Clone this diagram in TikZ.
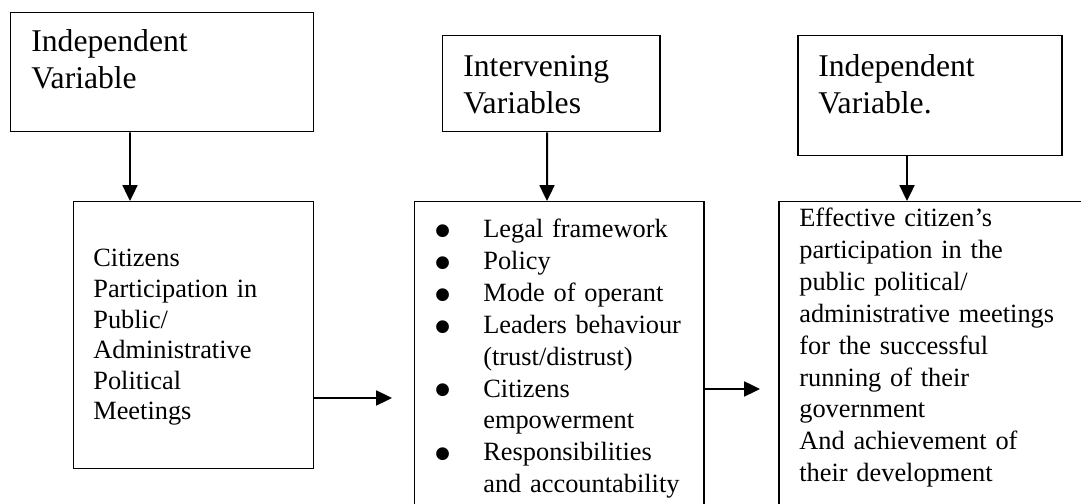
\documentclass[tikz,border=0pt]{standalone}
\usepackage{fontspec}
\setmainfont{Liberation Serif}
\newfontfamily\bulfont{DejaVu Sans}
\usepackage{tikz}
\usetikzlibrary{arrows.meta,calc}

% bullet list helpers
\newcommand{\bitem}{\makebox[0.96cm][l]{\raisebox{1.2pt}{\bulfont\fontsize{9.5}{18}\selectfont ●}}}
\newcommand{\bcont}{\hspace*{0.96cm}}

\begin{document}
\begin{tikzpicture}[
  box/.style={rectangle, draw, line width=0.85pt, anchor=north west, inner sep=0pt},
  head/.style={anchor=base west, inner sep=0pt, text width=5cm, align=left,
    font=\fontsize{18}{20.5}\selectfont},
  body/.style={anchor=base west, inner sep=0pt, text width=5.6cm, align=left,
    font=\fontsize{15}{18.1}\selectfont},
  arr/.style={-{Triangle[length=9pt,width=8.5pt]}, line width=1.13pt}
]
\useasboundingbox (0,0) rectangle (21.62,10.08);
\clip (0,0) rectangle (21.62,10.08);

% boxes
\node[box, minimum width=6.06cm, minimum height=2.38cm] (ivar)  at (0.20,9.84) {};
\node[box, minimum width=4.80cm, minimum height=5.34cm] (cpart) at (1.46,6.06) {};
\node[box, minimum width=4.34cm, minimum height=1.92cm] (inter) at (8.84,9.38) {};
\node[box, minimum width=5.78cm, minimum height=6.80cm] (fact)  at (8.28,6.06) {};
\node[box, minimum width=5.28cm, minimum height=2.40cm] (dvar)  at (15.94,9.38) {};
\node[box, minimum width=6.90cm, minimum height=6.80cm] (res)   at (15.56,6.06) {};

% texts
\node[head] (ivartxt)  at (0.62,9.04)  {Independent\\Variable};
\node[head] (intertxt) at (9.26,8.54)  {Intervening\\Variables};
\node[head] (dvartxt)  at (16.36,8.54) {Independent\\Variable.};
\node[body, font=\fontsize{15}{17.4}\selectfont] (cparttxt) at (1.86,4.74)
  {Citizens\\Participation in\\Public/\\Administrative\\Political\\Meetings};
\node[body] (facttxt) at (8.70,5.32)
  {\bitem Legal framework\\\bitem Policy\\\bitem Mode of operant\\
   \bitem Leaders behaviour\\\bcont(trust/distrust)\\\bitem Citizens\\
   \bcont empowerment\\\bitem Responsibilities\\\bcont and accountability};
\node[body, text width=6cm] (restxt) at (15.98,5.54)
  {Effective citizen’s\\participation in the\\public political/\\
   administrative meetings\\for the successful\\running of their\\
   government\\And achievement of\\their development};

% arrows
\draw[arr] ($(ivar.south west)+(2.40,0)$)  -- ($(cpart.north west)+(1.14,0)$);
\draw[arr] ($(inter.south west)+(2.10,0)$) -- ($(fact.north west)+(2.66,0)$);
\draw[arr] ($(dvar.south west)+(2.20,0)$)  -- ($(res.north west)+(2.58,0)$);
\draw[arr, shorten >=0.44cm] ($(cpart.north east)+(0,-3.94)$) coordinate (p) -- (p -| fact.west);
\draw[arr, shorten >=0.36cm] ($(fact.north east)+(0,-3.76)$) coordinate (q) -- (q -| res.west);
\end{tikzpicture}
\end{document}
